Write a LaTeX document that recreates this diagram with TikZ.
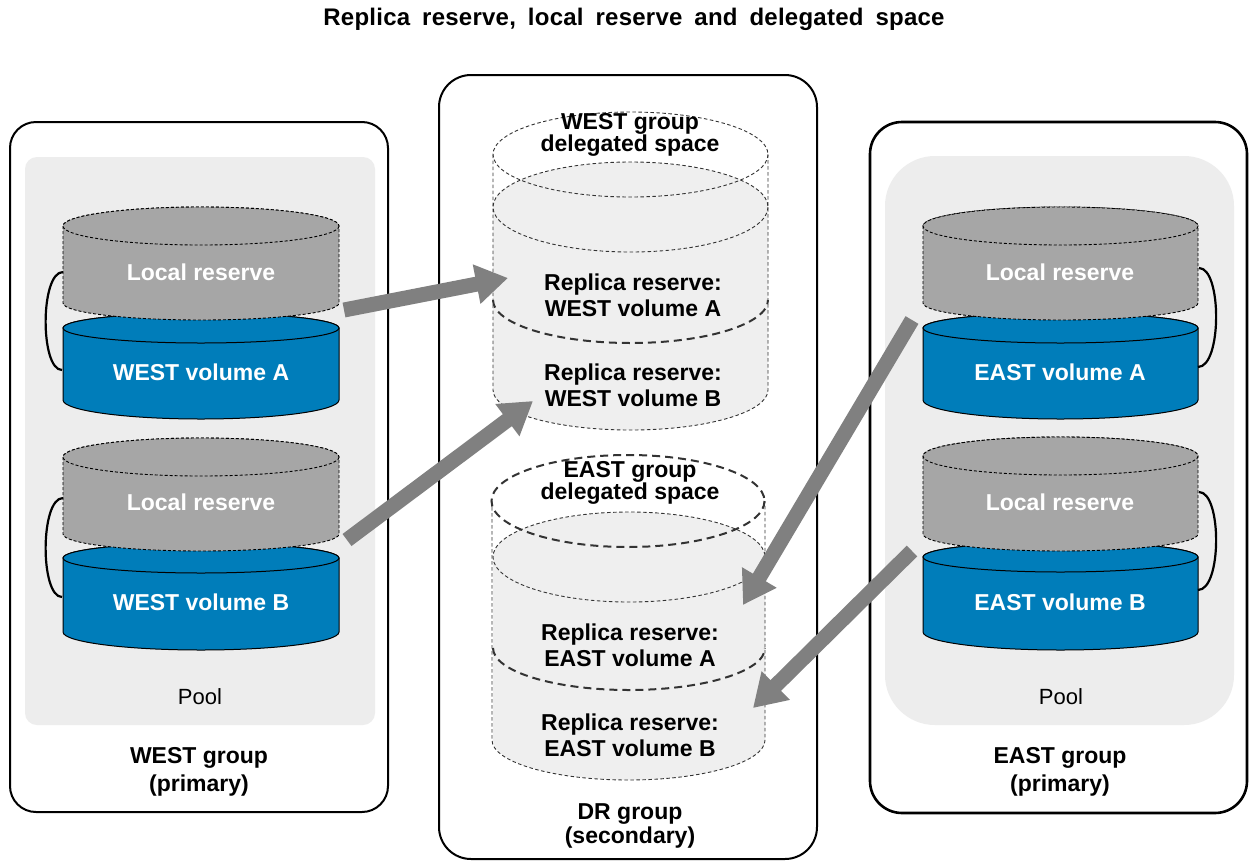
\documentclass[tikz,border=0pt]{standalone}
\usepackage{fontspec}
\setmainfont{Liberation Sans}
\newfontfamily\titlefont[LetterSpace=1]{Liberation Sans}
\usetikzlibrary{arrows.meta}
\definecolor{volblue}{RGB}{0,125,186}
\definecolor{resgray}{RGB}{166,166,166}
\definecolor{poolgray}{RGB}{237,237,237}
\definecolor{repgray}{RGB}{239,239,239}
\definecolor{arrgray}{RGB}{128,128,128}
% #1 style, #2 cx, #3 yt, #4 yb, #5 rx, #6 ryt, #7 ryb
\newcommand\mycyl[7]{%
  \path[#1] (#2-#5,#3) -- (#2-#5,#4) arc[start angle=180,end angle=0,x radius=#5,y radius=#7] -- (#2+#5,#3) arc[start angle=0,end angle=-180,x radius=#5,y radius=#6] -- cycle;
  \path[#1] (#2,#3) ellipse[x radius=#5, y radius=#6];
}
\tikzset{
  groupbox/.style={draw=black, line width=2pt, rounded corners=28pt},
  poolbox/.style={fill=poolgray, draw=none},
  volcyl/.style={fill=volblue, draw=black, line width=1pt},
  rescyl/.style={fill=resgray, draw=black, line width=0.9pt, dash pattern=on 3pt off 2pt},
  thindash/.style={draw=black!80, line width=0.9pt, dash pattern=on 3.5pt off 2.5pt},
  thickdash/.style={draw=black!80, line width=2pt, dash pattern=on 8pt off 5pt},
  wlabel/.style={text=white, font=\bfseries\fontsize{23}{26}\selectfont, inner sep=0pt},
  blabel/.style={text=black, font=\bfseries\fontsize{23}{26}\selectfont, inner sep=0pt, align=center},
  plabel/.style={text=black, font=\fontsize{22}{26}\selectfont, inner sep=0pt},
  bracket/.style={draw=black, line width=2.2pt},
  bigarrow/.style={draw=arrgray, line width=15pt, -{Triangle[length=32pt,width=38pt]}},
}
\begin{document}
\begin{tikzpicture}[x=1pt,y=-1pt]
\useasboundingbox (0,0) rectangle (1251,865);
\fill[white] (0,0) rectangle (1251,865);

% title
\node[text=black, font=\titlefont\bfseries\fontsize{24}{26}\selectfont, inner sep=0pt] (title) at (634,19) {\spaceskip=12pt plus 1pt\relax Replica reserve, local reserve and delegated space};

% group boxes
\draw[groupbox, rounded corners=26pt] (10,122) rectangle (388,812);
\fill[poolbox, rounded corners=12pt] (25,157) rectangle (375,725);
\draw[groupbox, rounded corners=32pt] (439,75) rectangle (817,859);
\draw[groupbox, line width=2.6pt, rounded corners=32pt] (870,122) rectangle (1247,813);
\fill[poolbox, rounded corners=50pt] (885,156) rectangle (1234,725);

% ---- WEST group cylinders
\mycyl{volcyl}{201}{328}{400}{138}{15}{19}
\mycyl{rescyl}{201}{226}{303}{138}{19}{17}
\mycyl{volcyl}{201}{558}{632}{138}{15}{18}
\mycyl{rescyl}{201}{457}{534}{138}{19}{17}
\node[wlabel] (wlra) at (201,272) {Local reserve};
\node[wlabel] (wva) at (201,372) {WEST volume A};
\node[wlabel] (wlrb) at (201,502) {Local reserve};
\node[wlabel] (wvb) at (201,602) {WEST volume B};
\coordinate (wbat) at (63,272); \coordinate (wbab) at (62,370);
\coordinate (wbbt) at (63,498); \coordinate (wbbb) at (62,597);
\draw[bracket] (wbat) .. controls (40,272) and (40,370) .. (wbab);
\draw[bracket] (wbbt) .. controls (40,498) and (40,597) .. (wbbb);
\node[plabel] (wpool) at (200,697) {Pool};
\node[blabel, font=\bfseries\fontsize{23}{28}\selectfont] (wgroup) at (199,772) {WEST group\\(primary)};

% ---- EAST group cylinders
\mycyl{volcyl}{1060.5}{328}{400}{137.5}{15}{19}
\mycyl{rescyl}{1060.5}{226}{303}{137.5}{19}{17}
\mycyl{volcyl}{1060.5}{557}{632}{137.5}{15}{18}
\mycyl{rescyl}{1060.5}{456}{534}{137.5}{19}{17}
\node[wlabel] (elra) at (1060,272) {Local reserve};
\node[wlabel] (eva) at (1060,372) {EAST volume A};
\node[wlabel] (elrb) at (1060,502) {Local reserve};
\node[wlabel] (evb) at (1060,602) {EAST volume B};
\coordinate (ebat) at (1199,268); \coordinate (ebab) at (1198,367);
\coordinate (ebbt) at (1199,492); \coordinate (ebbb) at (1198,590);
\draw[bracket] (ebat) .. controls (1222,268) and (1222,367) .. (ebab);
\draw[bracket] (ebbt) .. controls (1222,492) and (1222,590) .. (ebbb);
\node[plabel] (epool) at (1061,697) {Pool};
\node[blabel, font=\bfseries\fontsize{23}{28}\selectfont] (egroup) at (1060,772) {EAST group\\(primary)};

% ---- DR group: WEST delegated space
\fill[repgray] (493,207) -- (493,390) arc[start angle=180,end angle=0,x radius=137.5,y radius=40] -- (768,207) arc[start angle=0,end angle=-180,x radius=137.5,y radius=45] -- cycle;
\draw[thindash] (630.5,154.5) ellipse[x radius=137.5, y radius=42.5];
\draw[thindash] (630.5,207) ellipse[x radius=137.5, y radius=45];
\draw[thindash] (493,154.5) -- (493,390) arc[start angle=180,end angle=0,x radius=137.5,y radius=40] -- (768,154.5);
\draw[thickdash] (493,300) arc[start angle=180,end angle=0,x radius=137.5,y radius=43];
\node[blabel, font=\bfseries\fontsize{23}{20}\selectfont] (wdel) at (630,135) {WEST group\\delegated space};
\node[blabel] (wrra) at (633,295) {Replica reserve:\\WEST volume A};
\node[blabel] (wrrb) at (633,385) {Replica reserve:\\WEST volume B};

% ---- DR group: EAST delegated space
\fill[repgray] (493,557) -- (493,740) arc[start angle=180,end angle=0,x radius=136,y radius=40] -- (765,557) arc[start angle=0,end angle=-180,x radius=136,y radius=45] -- cycle;
\draw[thindash] (629,557) ellipse[x radius=136, y radius=45];
\draw[thindash] (492,501) -- (492,740) arc[start angle=180,end angle=0,x radius=136.5,y radius=40] -- (765,501);
\draw[thickdash] (628,501) ellipse[x radius=136.5, y radius=46];
\draw[thickdash] (493,648) arc[start angle=180,end angle=0,x radius=136,y radius=42];
\node[blabel, font=\bfseries\fontsize{23}{20}\selectfont] (edel) at (630,483) {EAST group\\delegated space};
\node[blabel] (erra) at (630,645) {Replica reserve:\\EAST volume A};
\node[blabel] (errb) at (630,735) {Replica reserve:\\EAST volume B};
\node[blabel, font=\bfseries\fontsize{23}{24}\selectfont] (drgroup) at (630,826) {DR group\\(secondary)};

% ---- arrows
\coordinate (a1s) at (344,310); \coordinate (a1e) at (508,278);
\coordinate (a2s) at (347,540); \coordinate (a2e) at (533,401);
\coordinate (a3s) at (912,320); \coordinate (a3e) at (743,605);
\coordinate (a4s) at (912,551); \coordinate (a4e) at (753,708);
\draw[bigarrow] (a1s) -- (a1e);
\draw[bigarrow] (a2s) -- (a2e);
\draw[bigarrow] (a3s) -- (a3e);
\draw[bigarrow] (a4s) -- (a4e);
\end{tikzpicture}
\end{document}
